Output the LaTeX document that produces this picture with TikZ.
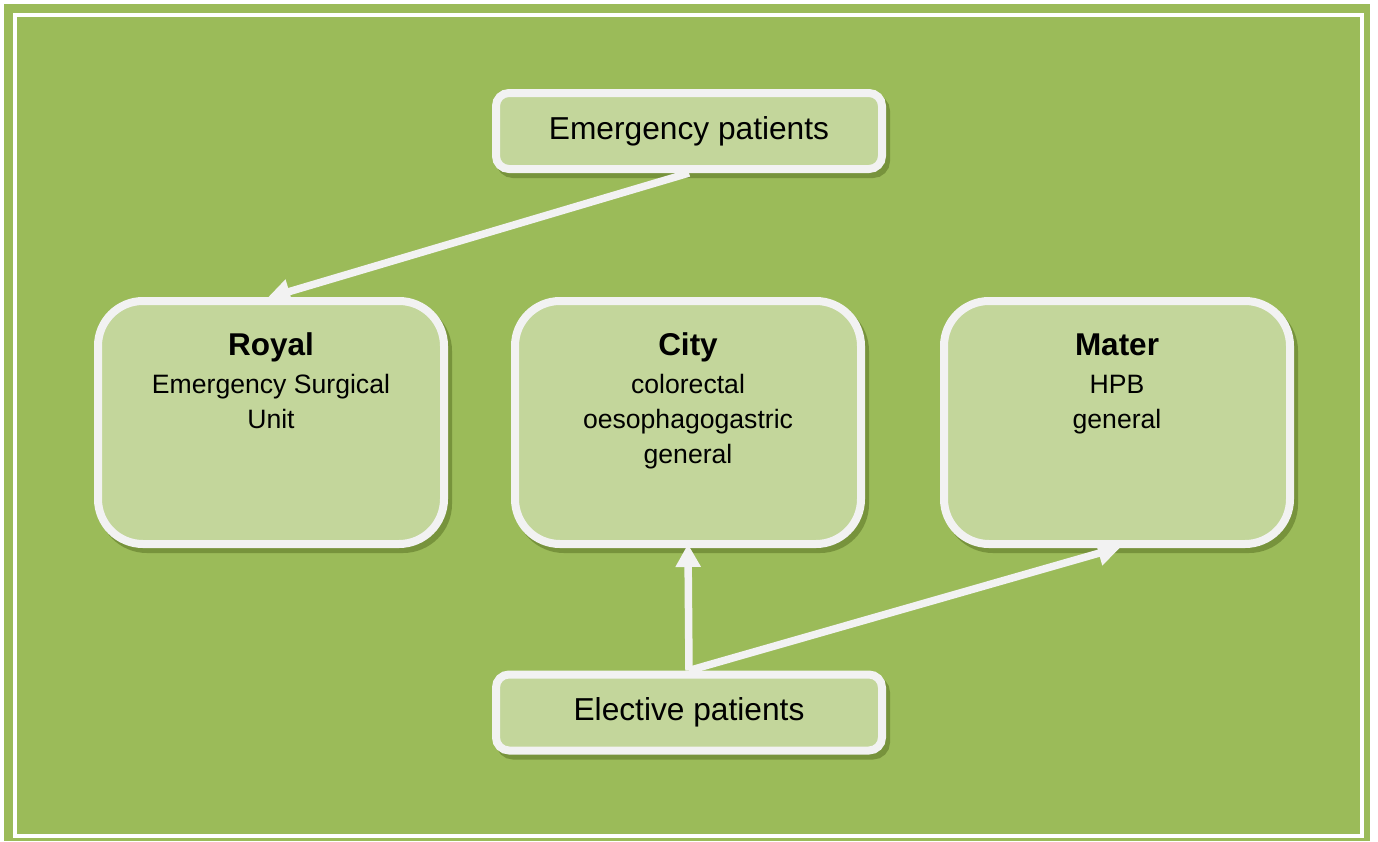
\documentclass[tikz,border=0pt]{standalone}
\usepackage{fontspec}
\setmainfont{Liberation Sans}
\usetikzlibrary{arrows.meta,shadows}
\definecolor{bggreen}{HTML}{9BBB59}
\definecolor{boxfill}{HTML}{C3D69B}
\definecolor{boxline}{HTML}{F2F2F2}
\definecolor{shadowgreen}{HTML}{77933C}
\newcommand{\bigboxtext}[2]{\parbox[c][243pt][t]{346pt}{\centering\rule{0pt}{54pt}\fontsize{31.5}{38}\selectfont\textbf{#1}\par\vspace{3pt}\fontsize{26.6}{35}\selectfont #2\par}}
\tikzset{
  boxbase/.style={draw=boxline, fill=boxfill, line width=8pt,
    drop shadow={shadow xshift=4pt, shadow yshift=-5pt, fill=shadowgreen, draw=shadowgreen, line width=8pt, opacity=1}},
  smallbox/.style={boxbase, rounded corners=13pt, minimum width=386pt, minimum height=76pt, inner sep=0pt,
    font=\fontsize{31.7}{38}\selectfont},
  bigbox/.style={boxbase, rounded corners=45pt, minimum width=346pt, minimum height=243pt, inner sep=0pt},
  arr/.style={draw=boxline, line width=7.5pt, -{Triangle[width=24pt,length=23pt]}, shorten >=-4pt}
}
\begin{document}
\begin{tikzpicture}[x=1pt,y=-1pt]
\useasboundingbox (0,0) rectangle (1378,841);
\fill[white] (0,0) rectangle (1378,841);
\fill[bggreen] (4,4) rectangle (1370,841);
\draw[white, line width=4pt] (15,15) rectangle (1362,836);

\node[smallbox] (emerg) at (689,131) {Emergency patients};
\node[smallbox] (elect) at (689,712.5) {Elective patients};
\node[bigbox] (royal) at (271,422.5) {\bigboxtext{Royal}{Emergency Surgical\\Unit}};
\node[bigbox] (city) at (688,422.5) {\bigboxtext{City}{colorectal\\oesophagogastric\\general}};
\node[bigbox] (mater) at (1117,422.5) {\bigboxtext{Mater}{HPB\\general}};

\draw[arr] (emerg.south) -- (royal.north);
\draw[arr] (elect.north) -- (city.south);
\draw[arr] (elect.north) -- (mater.south);
\end{tikzpicture}
\end{document}
